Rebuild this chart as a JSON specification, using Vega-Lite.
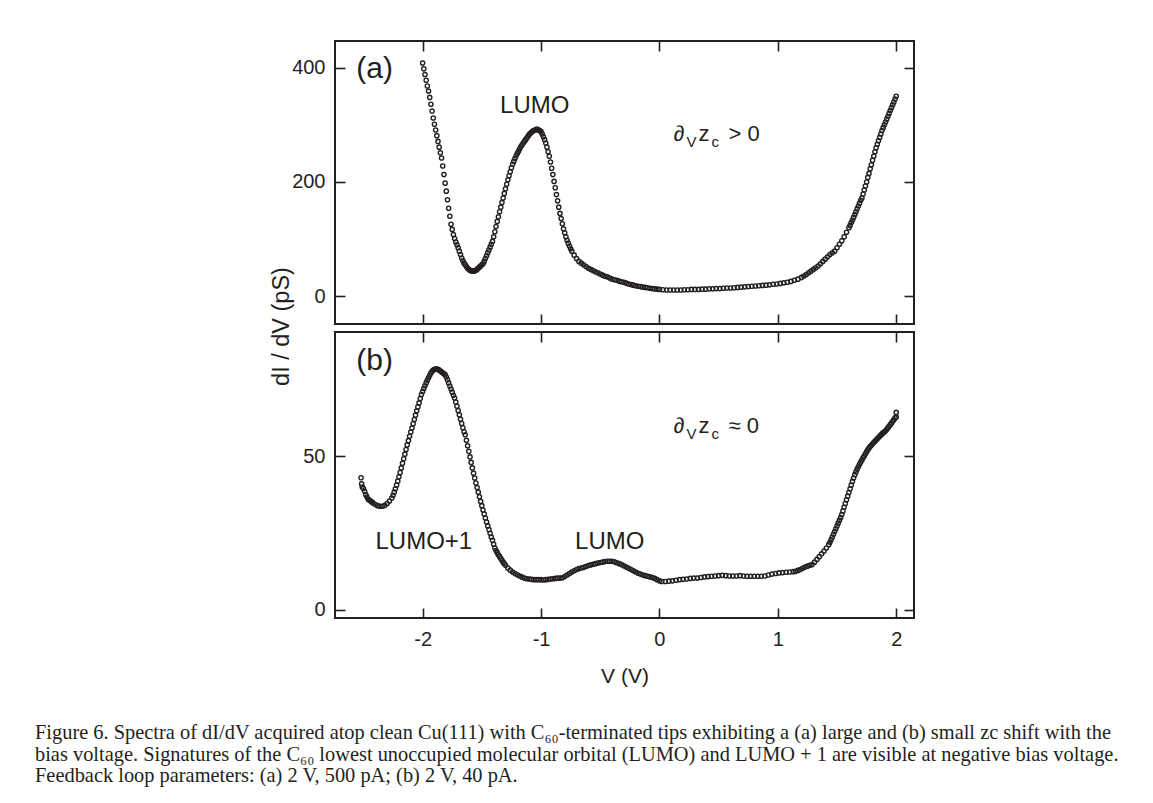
{
"$schema": "https://vega.github.io/schema/vega-lite/v6.json",
"padding": {"left": 35, "top": 39, "right": 5, "bottom": 5},
"background": "white",
"title": {"text": ["Figure 6. Spectra of dI/dV acquired atop clean Cu(111) with C₆₀-terminated tips exhibiting a (a) large and (b) small zc shift with the", "bias voltage. Signatures of the C₆₀ lowest unoccupied molecular orbital (LUMO) and LUMO + 1 are visible at negative bias voltage.", "Feedback loop parameters: (a) 2 V, 500 pA; (b) 2 V, 40 pA."], "orient": "bottom", "anchor": "start", "frame": "bounds", "font": "Liberation Serif", "fontSize": 20.4, "fontWeight": "normal", "color": "#231f20", "lineHeight": 21.5, "offset": 36, "dx": -233},
"bounds": "flush",
"spacing": 8,
"config": {
  "view": {"stroke": "#231f20", "strokeWidth": 2},
  "axis": {"grid": false, "domain": false, "tickColor": "#231f20", "tickWidth": 1.6, "tickSize": -10, "labelPadding": 20, "labelFont": "Liberation Sans", "labelFontSize": 20, "labelColor": "#231f20", "titleFont": "Liberation Sans", "titleFontSize": 21, "titleFontWeight": "normal", "titleColor": "#231f20"},
  "text": {"font": "Liberation Sans", "color": "#231f20"}
},
"datasets": {
"a": [
{"V":-2.00,"G":408},{"V":-1.99,"G":398},{"V":-1.98,"G":388},{"V":-1.97,"G":378},{"V":-1.96,"G":368},{"V":-1.95,"G":359},{"V":-1.94,"G":348},{"V":-1.93,"G":336},{"V":-1.92,"G":324},{"V":-1.91,"G":312},{"V":-1.90,"G":301},{"V":-1.89,"G":291},{"V":-1.88,"G":281},{"V":-1.87,"G":271},{"V":-1.86,"G":261},{"V":-1.85,"G":251},{"V":-1.84,"G":242},{"V":-1.83,"G":228},{"V":-1.82,"G":213},{"V":-1.81,"G":198},{"V":-1.80,"G":184},{"V":-1.79,"G":169},{"V":-1.78,"G":154},{"V":-1.77,"G":140},{"V":-1.76,"G":126},{"V":-1.75,"G":117},{"V":-1.74,"G":108},{"V":-1.73,"G":101},{"V":-1.72,"G":95},{"V":-1.71,"G":90},{"V":-1.70,"G":85},{"V":-1.69,"G":79},{"V":-1.68,"G":73},{"V":-1.67,"G":67},{"V":-1.66,"G":62},{"V":-1.65,"G":58},{"V":-1.64,"G":55},{"V":-1.63,"G":52},{"V":-1.62,"G":49},{"V":-1.61,"G":47},{"V":-1.60,"G":45.5},{"V":-1.59,"G":44.5},{"V":-1.58,"G":44},{"V":-1.57,"G":44},{"V":-1.56,"G":44.5},{"V":-1.55,"G":45.5},{"V":-1.54,"G":47},{"V":-1.53,"G":49},{"V":-1.52,"G":51},{"V":-1.51,"G":53},{"V":-1.50,"G":55},{"V":-1.49,"G":57},{"V":-1.48,"G":61},{"V":-1.47,"G":66},{"V":-1.46,"G":71},{"V":-1.45,"G":76},{"V":-1.44,"G":81},{"V":-1.43,"G":86},{"V":-1.42,"G":91},{"V":-1.41,"G":96},{"V":-1.40,"G":104},{"V":-1.39,"G":113},{"V":-1.38,"G":122},{"V":-1.37,"G":131},{"V":-1.36,"G":139},{"V":-1.35,"G":148},{"V":-1.34,"G":156},{"V":-1.33,"G":164},{"V":-1.32,"G":172},{"V":-1.31,"G":180},{"V":-1.30,"G":188},{"V":-1.29,"G":196},{"V":-1.28,"G":204},{"V":-1.27,"G":211},{"V":-1.26,"G":218},{"V":-1.25,"G":225},{"V":-1.24,"G":231},{"V":-1.23,"G":236},{"V":-1.22,"G":241},{"V":-1.21,"G":246},{"V":-1.20,"G":250},{"V":-1.19,"G":254},{"V":-1.18,"G":258},{"V":-1.17,"G":262},{"V":-1.16,"G":265},{"V":-1.15,"G":268},{"V":-1.14,"G":271},{"V":-1.13,"G":274},{"V":-1.12,"G":277},{"V":-1.11,"G":280},{"V":-1.10,"G":283},{"V":-1.09,"G":285},{"V":-1.08,"G":287},{"V":-1.07,"G":289},{"V":-1.06,"G":290},{"V":-1.05,"G":291},{"V":-1.04,"G":292},{"V":-1.03,"G":292},{"V":-1.02,"G":291},{"V":-1.01,"G":290},{"V":-1.00,"G":288},{"V":-0.99,"G":284},{"V":-0.98,"G":279},{"V":-0.97,"G":274},{"V":-0.96,"G":268},{"V":-0.95,"G":261},{"V":-0.94,"G":253},{"V":-0.93,"G":245},{"V":-0.92,"G":235},{"V":-0.91,"G":224},{"V":-0.90,"G":213},{"V":-0.89,"G":201},{"V":-0.88,"G":190},{"V":-0.87,"G":178},{"V":-0.86,"G":167},{"V":-0.85,"G":156},{"V":-0.84,"G":145},{"V":-0.83,"G":136},{"V":-0.82,"G":127},{"V":-0.81,"G":118},{"V":-0.80,"G":111},{"V":-0.79,"G":104},{"V":-0.78,"G":98},{"V":-0.77,"G":93},{"V":-0.76,"G":88},{"V":-0.75,"G":83},{"V":-0.74,"G":79},{"V":-0.72,"G":72},{"V":-0.70,"G":66},{"V":-0.68,"G":61},{"V":-0.66,"G":58},{"V":-0.64,"G":55},{"V":-0.62,"G":52},{"V":-0.60,"G":49},{"V":-0.58,"G":47},{"V":-0.56,"G":45},{"V":-0.54,"G":43},{"V":-0.52,"G":41},{"V":-0.50,"G":39},{"V":-0.48,"G":37},{"V":-0.46,"G":35},{"V":-0.44,"G":34},{"V":-0.42,"G":32},{"V":-0.40,"G":30},{"V":-0.38,"G":29},{"V":-0.36,"G":28},{"V":-0.34,"G":26.5},{"V":-0.32,"G":25.5},{"V":-0.30,"G":24.5},{"V":-0.28,"G":23},{"V":-0.26,"G":21.5},{"V":-0.24,"G":20.5},{"V":-0.22,"G":19.5},{"V":-0.20,"G":18.5},{"V":-0.18,"G":17.5},{"V":-0.16,"G":17},{"V":-0.14,"G":16},{"V":-0.12,"G":15.5},{"V":-0.10,"G":15},{"V":-0.08,"G":14},{"V":-0.06,"G":13.5},{"V":-0.04,"G":13},{"V":-0.02,"G":12.5},{"V":0.00,"G":12},{"V":0.03,"G":11.5},{"V":0.06,"G":11},{"V":0.09,"G":11},{"V":0.12,"G":11},{"V":0.15,"G":11},{"V":0.18,"G":11},{"V":0.21,"G":11.5},{"V":0.24,"G":11.5},{"V":0.27,"G":12},{"V":0.30,"G":12},{"V":0.33,"G":12},{"V":0.36,"G":12.5},{"V":0.39,"G":12.5},{"V":0.42,"G":13},{"V":0.45,"G":13},{"V":0.48,"G":13.5},{"V":0.51,"G":13.5},{"V":0.54,"G":14},{"V":0.57,"G":14.5},{"V":0.60,"G":14.5},{"V":0.63,"G":15},{"V":0.66,"G":15.5},{"V":0.69,"G":16},{"V":0.72,"G":16.5},{"V":0.75,"G":17},{"V":0.78,"G":17.5},{"V":0.81,"G":18},{"V":0.84,"G":18.5},{"V":0.87,"G":19},{"V":0.90,"G":19.5},{"V":0.93,"G":20},{"V":0.96,"G":21},{"V":0.99,"G":21.5},{"V":1.02,"G":22.5},{"V":1.05,"G":23.5},{"V":1.08,"G":24.5},{"V":1.11,"G":26},{"V":1.14,"G":28},{"V":1.17,"G":30},{"V":1.20,"G":33},{"V":1.22,"G":35.5},{"V":1.24,"G":38},{"V":1.26,"G":41},{"V":1.28,"G":44},{"V":1.30,"G":47},{"V":1.32,"G":50},{"V":1.34,"G":53},{"V":1.36,"G":57},{"V":1.38,"G":61},{"V":1.40,"G":65},{"V":1.42,"G":69},{"V":1.44,"G":73},{"V":1.46,"G":76},{"V":1.48,"G":79},{"V":1.50,"G":85},{"V":1.52,"G":91},{"V":1.54,"G":97},{"V":1.56,"G":104},{"V":1.58,"G":112},{"V":1.60,"G":120},{"V":1.61,"G":124},{"V":1.62,"G":129},{"V":1.63,"G":133},{"V":1.64,"G":138},{"V":1.65,"G":143},{"V":1.66,"G":148},{"V":1.67,"G":153},{"V":1.68,"G":158},{"V":1.69,"G":163},{"V":1.70,"G":168},{"V":1.71,"G":172},{"V":1.72,"G":179},{"V":1.73,"G":186},{"V":1.74,"G":193},{"V":1.75,"G":200},{"V":1.76,"G":208},{"V":1.77,"G":215},{"V":1.78,"G":223},{"V":1.79,"G":230},{"V":1.80,"G":238},{"V":1.81,"G":245},{"V":1.82,"G":253},{"V":1.83,"G":260},{"V":1.84,"G":266},{"V":1.85,"G":272},{"V":1.86,"G":278},{"V":1.87,"G":284},{"V":1.88,"G":290},{"V":1.89,"G":295},{"V":1.90,"G":300},{"V":1.91,"G":305},{"V":1.92,"G":310},{"V":1.93,"G":315},{"V":1.94,"G":320},{"V":1.95,"G":325},{"V":1.96,"G":330},{"V":1.97,"G":335},{"V":1.98,"G":340},{"V":1.99,"G":345},{"V":2.00,"G":350}
],
"b": [
{"V":-2.52,"G":43},{"V":-2.515,"G":41},{"V":-2.51,"G":40},{"V":-2.50,"G":39.5},{"V":-2.49,"G":38.6},{"V":-2.48,"G":37.5},{"V":-2.47,"G":36.7},{"V":-2.46,"G":36},{"V":-2.45,"G":35.7},{"V":-2.44,"G":35.4},{"V":-2.43,"G":35.2},{"V":-2.42,"G":34.8},{"V":-2.40,"G":34.3},{"V":-2.38,"G":33.9},{"V":-2.36,"G":33.7},{"V":-2.34,"G":33.7},{"V":-2.32,"G":34},{"V":-2.30,"G":34.6},{"V":-2.28,"G":35.4},{"V":-2.26,"G":36.4},{"V":-2.25,"G":37.3},{"V":-2.24,"G":38.3},{"V":-2.23,"G":39.4},{"V":-2.22,"G":40.6},{"V":-2.21,"G":41.9},{"V":-2.20,"G":43.3},{"V":-2.19,"G":44.7},{"V":-2.18,"G":46.2},{"V":-2.17,"G":47.7},{"V":-2.16,"G":49.2},{"V":-2.15,"G":50.7},{"V":-2.14,"G":52.2},{"V":-2.13,"G":53.7},{"V":-2.12,"G":55.1},{"V":-2.11,"G":56.5},{"V":-2.10,"G":57.9},{"V":-2.09,"G":59.2},{"V":-2.08,"G":60.6},{"V":-2.07,"G":62},{"V":-2.06,"G":63.4},{"V":-2.05,"G":64.8},{"V":-2.04,"G":66.1},{"V":-2.03,"G":67.4},{"V":-2.02,"G":68.8},{"V":-2.01,"G":70.1},{"V":-2.00,"G":71.1},{"V":-1.99,"G":72.1},{"V":-1.98,"G":73},{"V":-1.97,"G":73.9},{"V":-1.96,"G":74.8},{"V":-1.95,"G":75.6},{"V":-1.94,"G":76.4},{"V":-1.93,"G":77.1},{"V":-1.92,"G":77.7},{"V":-1.91,"G":78.1},{"V":-1.90,"G":78.3},{"V":-1.89,"G":78.4},{"V":-1.88,"G":78.4},{"V":-1.87,"G":78.3},{"V":-1.86,"G":78.1},{"V":-1.85,"G":77.8},{"V":-1.84,"G":77.5},{"V":-1.83,"G":77.2},{"V":-1.82,"G":76.9},{"V":-1.81,"G":76.6},{"V":-1.80,"G":75.8},{"V":-1.79,"G":74.9},{"V":-1.78,"G":73.9},{"V":-1.77,"G":72.9},{"V":-1.76,"G":71.9},{"V":-1.75,"G":70.9},{"V":-1.74,"G":69.9},{"V":-1.73,"G":69},{"V":-1.72,"G":67.7},{"V":-1.71,"G":66.3},{"V":-1.70,"G":64.9},{"V":-1.69,"G":63.5},{"V":-1.68,"G":62.1},{"V":-1.67,"G":60.7},{"V":-1.66,"G":59.3},{"V":-1.65,"G":58},{"V":-1.64,"G":57},{"V":-1.63,"G":55.2},{"V":-1.62,"G":53.4},{"V":-1.61,"G":51.6},{"V":-1.60,"G":49.8},{"V":-1.59,"G":48},{"V":-1.58,"G":46.2},{"V":-1.57,"G":44.5},{"V":-1.56,"G":42.9},{"V":-1.55,"G":41.3},{"V":-1.54,"G":39.8},{"V":-1.53,"G":38.3},{"V":-1.52,"G":36.8},{"V":-1.51,"G":35.3},{"V":-1.50,"G":33.9},{"V":-1.49,"G":32.5},{"V":-1.48,"G":31.2},{"V":-1.47,"G":29.9},{"V":-1.46,"G":28.6},{"V":-1.45,"G":27.3},{"V":-1.44,"G":26.1},{"V":-1.43,"G":24.9},{"V":-1.42,"G":23.7},{"V":-1.41,"G":22.6},{"V":-1.40,"G":21.3},{"V":-1.39,"G":20.1},{"V":-1.38,"G":19.3},{"V":-1.37,"G":18.6},{"V":-1.36,"G":17.9},{"V":-1.35,"G":17.3},{"V":-1.34,"G":16.7},{"V":-1.33,"G":16.1},{"V":-1.32,"G":15.5},{"V":-1.31,"G":15},{"V":-1.30,"G":14.5},{"V":-1.28,"G":13.6},{"V":-1.26,"G":12.9},{"V":-1.24,"G":12.3},{"V":-1.22,"G":11.8},{"V":-1.20,"G":11.4},{"V":-1.18,"G":11},{"V":-1.16,"G":10.6},{"V":-1.14,"G":10.3},{"V":-1.12,"G":10.1},{"V":-1.10,"G":10},{"V":-1.08,"G":9.9},{"V":-1.06,"G":9.8},{"V":-1.04,"G":9.8},{"V":-1.02,"G":9.8},{"V":-1.00,"G":9.8},{"V":-0.98,"G":9.7},{"V":-0.96,"G":9.8},{"V":-0.94,"G":9.9},{"V":-0.92,"G":10},{"V":-0.90,"G":10.1},{"V":-0.88,"G":10.2},{"V":-0.86,"G":10.3},{"V":-0.84,"G":10.3},{"V":-0.82,"G":10.4},{"V":-0.80,"G":10.8},{"V":-0.78,"G":11.3},{"V":-0.76,"G":11.8},{"V":-0.74,"G":12.3},{"V":-0.72,"G":12.7},{"V":-0.70,"G":13.1},{"V":-0.68,"G":13.4},{"V":-0.66,"G":13.6},{"V":-0.64,"G":13.8},{"V":-0.62,"G":14.1},{"V":-0.60,"G":14.4},{"V":-0.58,"G":14.6},{"V":-0.56,"G":14.8},{"V":-0.54,"G":15},{"V":-0.52,"G":15.2},{"V":-0.50,"G":15.4},{"V":-0.48,"G":15.5},{"V":-0.46,"G":15.7},{"V":-0.44,"G":15.8},{"V":-0.42,"G":15.8},{"V":-0.40,"G":15.8},{"V":-0.38,"G":15.6},{"V":-0.36,"G":15.3},{"V":-0.34,"G":15},{"V":-0.32,"G":14.7},{"V":-0.30,"G":14.3},{"V":-0.28,"G":13.9},{"V":-0.26,"G":13.5},{"V":-0.24,"G":13.1},{"V":-0.22,"G":12.7},{"V":-0.20,"G":12.3},{"V":-0.18,"G":11.9},{"V":-0.16,"G":11.6},{"V":-0.14,"G":11.3},{"V":-0.12,"G":11.1},{"V":-0.10,"G":10.9},{"V":-0.08,"G":10.7},{"V":-0.06,"G":10.5},{"V":-0.04,"G":10.2},{"V":-0.02,"G":9.8},{"V":0.00,"G":9.4},{"V":0.02,"G":9.2},{"V":0.05,"G":9.2},{"V":0.08,"G":9.3},{"V":0.11,"G":9.4},{"V":0.14,"G":9.6},{"V":0.17,"G":9.8},{"V":0.20,"G":9.9},{"V":0.23,"G":10},{"V":0.26,"G":10.2},{"V":0.29,"G":10.3},{"V":0.32,"G":10.3},{"V":0.35,"G":10.5},{"V":0.38,"G":10.7},{"V":0.41,"G":10.8},{"V":0.44,"G":10.9},{"V":0.47,"G":11},{"V":0.50,"G":11.1},{"V":0.53,"G":11.2},{"V":0.56,"G":11.1},{"V":0.59,"G":11},{"V":0.62,"G":11},{"V":0.65,"G":11},{"V":0.68,"G":11.1},{"V":0.71,"G":11},{"V":0.74,"G":10.9},{"V":0.77,"G":10.9},{"V":0.80,"G":10.9},{"V":0.83,"G":10.9},{"V":0.86,"G":10.9},{"V":0.89,"G":11},{"V":0.92,"G":11.3},{"V":0.95,"G":11.6},{"V":0.98,"G":11.8},{"V":1.01,"G":12},{"V":1.04,"G":12.1},{"V":1.07,"G":12.2},{"V":1.10,"G":12.3},{"V":1.13,"G":12.4},{"V":1.15,"G":12.5},{"V":1.17,"G":12.8},{"V":1.19,"G":13.1},{"V":1.21,"G":13.5},{"V":1.23,"G":13.9},{"V":1.25,"G":14.2},{"V":1.27,"G":14.5},{"V":1.29,"G":14.7},{"V":1.31,"G":15.5},{"V":1.33,"G":16.4},{"V":1.35,"G":17.3},{"V":1.37,"G":18.2},{"V":1.39,"G":19.1},{"V":1.41,"G":20.1},{"V":1.43,"G":21.2},{"V":1.44,"G":22},{"V":1.45,"G":22.8},{"V":1.46,"G":23.7},{"V":1.47,"G":24.6},{"V":1.48,"G":25.5},{"V":1.49,"G":26.4},{"V":1.50,"G":27.3},{"V":1.51,"G":28.2},{"V":1.52,"G":29.1},{"V":1.53,"G":30},{"V":1.54,"G":31},{"V":1.55,"G":32.2},{"V":1.56,"G":33.4},{"V":1.57,"G":34.6},{"V":1.58,"G":35.8},{"V":1.59,"G":37},{"V":1.60,"G":38.2},{"V":1.61,"G":39.4},{"V":1.62,"G":40.6},{"V":1.63,"G":41.8},{"V":1.64,"G":42.9},{"V":1.65,"G":44},{"V":1.66,"G":44.9},{"V":1.67,"G":45.8},{"V":1.68,"G":46.6},{"V":1.69,"G":47.4},{"V":1.70,"G":48.1},{"V":1.71,"G":48.8},{"V":1.72,"G":49.5},{"V":1.73,"G":50.1},{"V":1.74,"G":50.8},{"V":1.75,"G":51.5},{"V":1.76,"G":52.1},{"V":1.77,"G":52.7},{"V":1.78,"G":53.2},{"V":1.79,"G":53.6},{"V":1.80,"G":54.1},{"V":1.81,"G":54.5},{"V":1.82,"G":54.9},{"V":1.83,"G":55.3},{"V":1.84,"G":55.7},{"V":1.85,"G":56.1},{"V":1.86,"G":56.5},{"V":1.87,"G":56.9},{"V":1.88,"G":57.3},{"V":1.89,"G":57.7},{"V":1.90,"G":58},{"V":1.91,"G":58.3},{"V":1.92,"G":58.8},{"V":1.93,"G":59.3},{"V":1.94,"G":59.8},{"V":1.95,"G":60.3},{"V":1.96,"G":60.8},{"V":1.97,"G":61.4},{"V":1.98,"G":61.9},{"V":1.99,"G":62.5},{"V":2.00,"G":62.8},{"V":2.00,"G":64.3}
],
"labels": [
{"p":"a","k":"tag","V":-2.56,"G":382,"t":"(a)"},
{"p":"a","k":"name","V":-1.053,"G":320,"t":"LUMO"},
{"p":"a","k":"math","V":0.118,"G":271,"t":"∂"},
{"p":"a","k":"math","V":0.33,"G":271,"t":"z"},
{"p":"a","k":"math","V":0.583,"G":271,"t":"> 0"},
{"p":"a","k":"sub","V":0.228,"G":261,"t":"V"},
{"p":"a","k":"sub","V":0.44,"G":261,"t":"c"},
{"p":"b","k":"tag","V":-2.56,"G":78,"t":"(b)"},
{"p":"b","k":"name","V":-1.99,"G":19.7,"t":"LUMO+1"},
{"p":"b","k":"name","V":-0.42,"G":19.7,"t":"LUMO"},
{"p":"b","k":"math","V":0.118,"G":57.6,"t":"∂"},
{"p":"b","k":"math","V":0.33,"G":57.6,"t":"z"},
{"p":"b","k":"math","V":0.583,"G":57.6,"t":"≈ 0"},
{"p":"b","k":"sub","V":0.228,"G":55.6,"t":"V"},
{"p":"b","k":"sub","V":0.44,"G":55.6,"t":"c"}
]
},
"vconcat": [
{
  "width": 579, "height": 283,
  "layer": [
    {"data": {"name": "a"},
     "mark": {"type": "point", "shape": "circle", "size": 18, "strokeWidth": 1.4, "filled": false, "color": "#231f20", "opacity": 1},
     "encoding": {
       "x": {"field": "V", "type": "quantitative", "scale": {"domain": [-2.74, 2.15], "nice": false, "zero": false}, "axis": {"orient": "bottom", "labels": false, "values": [-2, -1, 0, 1, 2], "title": null}},
       "y": {"field": "G", "type": "quantitative", "scale": {"domain": [-48.5, 446.7], "nice": false, "zero": false}, "axis": {"orient": "left", "values": [0, 200, 400], "title": "dI / dV (pS)", "titleFontSize": 23.5, "titleX": -47, "titleY": 285, "titleAngle": -90, "titleAlign": "center", "titleBaseline": "alphabetic"}}
     }},
    {"data": {"name": "labels"}, "transform": [{"filter": "datum.p == 'a' && datum.k == 'tag'"}],
     "mark": {"type": "text", "fontSize": 30, "align": "left", "baseline": "alphabetic"},
     "encoding": {
       "x": {"field": "V", "type": "quantitative", "scale": {"domain": [-2.74, 2.15], "nice": false, "zero": false}, "axis": {"orient": "top", "labels": false, "values": [-2, -1, 0, 1, 2], "title": null}},
       "y": {"field": "G", "type": "quantitative", "scale": {"domain": [-48.5, 446.7], "nice": false, "zero": false}, "axis": {"orient": "right", "labels": false, "values": [0, 200, 400], "title": null}},
       "text": {"field": "t"}
     }},
    {"data": {"name": "labels"}, "transform": [{"filter": "datum.p == 'a' && datum.k == 'name'"}],
     "mark": {"type": "text", "fontSize": 24, "align": "center", "baseline": "alphabetic"},
     "encoding": {
       "x": {"field": "V", "type": "quantitative", "axis": null},
       "y": {"field": "G", "type": "quantitative", "axis": null},
       "text": {"field": "t"}
     }},
    {"data": {"name": "labels"}, "transform": [{"filter": "datum.p == 'a' && datum.k == 'math'"}],
     "mark": {"type": "text", "fontSize": 22, "align": "left", "baseline": "alphabetic"},
     "encoding": {
       "x": {"field": "V", "type": "quantitative", "axis": null},
       "y": {"field": "G", "type": "quantitative", "axis": null},
       "text": {"field": "t"}
     }},
    {"data": {"name": "labels"}, "transform": [{"filter": "datum.p == 'a' && datum.k == 'sub'"}],
     "mark": {"type": "text", "fontSize": 15, "align": "left", "baseline": "alphabetic"},
     "encoding": {
       "x": {"field": "V", "type": "quantitative", "axis": null},
       "y": {"field": "G", "type": "quantitative", "axis": null},
       "text": {"field": "t"}
     }}
  ],
  "resolve": {"axis": {"x": "independent", "y": "independent"}}
},
{
  "width": 579, "height": 286,
  "layer": [
    {"data": {"name": "b"},
     "mark": {"type": "point", "shape": "circle", "size": 18, "strokeWidth": 1.4, "filled": false, "color": "#231f20", "opacity": 1},
     "encoding": {
       "x": {"field": "V", "type": "quantitative", "scale": {"domain": [-2.74, 2.15], "nice": false, "zero": false}, "axis": {"orient": "bottom", "values": [-2, -1, 0, 1, 2], "title": "V (V)", "titlePadding": 16, "labelPadding": 21, "labelExpr": "datum.value + ''"}},
       "y": {"field": "G", "type": "quantitative", "scale": {"domain": [-2.7, 90.5], "nice": false, "zero": false}, "axis": {"orient": "left", "values": [0, 50], "title": null}}
     }},
    {"data": {"name": "labels"}, "transform": [{"filter": "datum.p == 'b' && datum.k == 'tag'"}],
     "mark": {"type": "text", "fontSize": 30, "align": "left", "baseline": "alphabetic"},
     "encoding": {
       "x": {"field": "V", "type": "quantitative", "scale": {"domain": [-2.74, 2.15], "nice": false, "zero": false}, "axis": {"orient": "top", "labels": false, "values": [-2, -1, 0, 1, 2], "title": null}},
       "y": {"field": "G", "type": "quantitative", "scale": {"domain": [-2.7, 90.5], "nice": false, "zero": false}, "axis": {"orient": "right", "labels": false, "values": [0, 50], "title": null}},
       "text": {"field": "t"}
     }},
    {"data": {"name": "labels"}, "transform": [{"filter": "datum.p == 'b' && datum.k == 'name'"}],
     "mark": {"type": "text", "fontSize": 24, "align": "center", "baseline": "alphabetic"},
     "encoding": {
       "x": {"field": "V", "type": "quantitative", "axis": null},
       "y": {"field": "G", "type": "quantitative", "axis": null},
       "text": {"field": "t"}
     }},
    {"data": {"name": "labels"}, "transform": [{"filter": "datum.p == 'b' && datum.k == 'math'"}],
     "mark": {"type": "text", "fontSize": 22, "align": "left", "baseline": "alphabetic"},
     "encoding": {
       "x": {"field": "V", "type": "quantitative", "axis": null},
       "y": {"field": "G", "type": "quantitative", "axis": null},
       "text": {"field": "t"}
     }},
    {"data": {"name": "labels"}, "transform": [{"filter": "datum.p == 'b' && datum.k == 'sub'"}],
     "mark": {"type": "text", "fontSize": 15, "align": "left", "baseline": "alphabetic"},
     "encoding": {
       "x": {"field": "V", "type": "quantitative", "axis": null},
       "y": {"field": "G", "type": "quantitative", "axis": null},
       "text": {"field": "t"}
     }}
  ],
  "resolve": {"axis": {"x": "independent", "y": "independent"}}
}
]
}
